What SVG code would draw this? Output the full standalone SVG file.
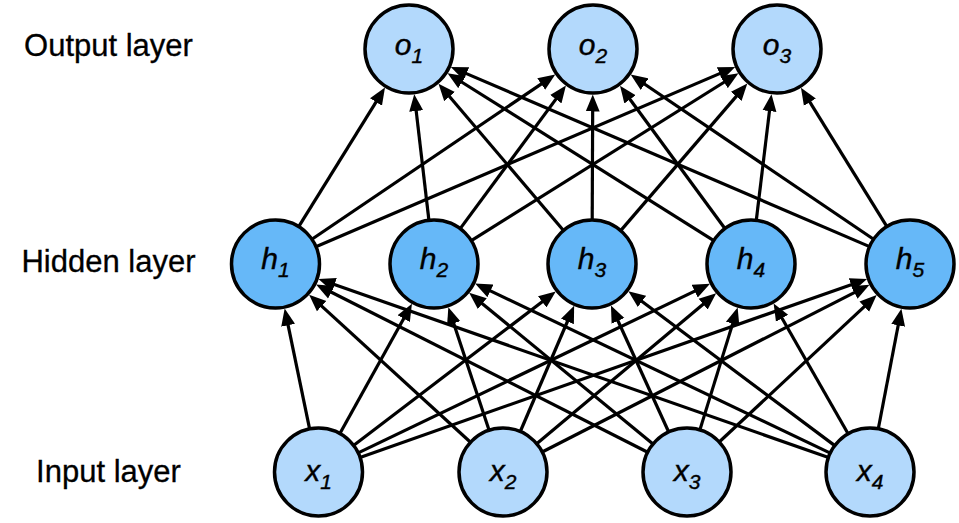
<svg xmlns="http://www.w3.org/2000/svg" width="959" height="523" viewBox="0 0 959 523">
<style>
.layer{font-family:"Liberation Sans",Arial,sans-serif;font-size:31px;fill:#000;text-anchor:middle;stroke:#000;stroke-width:0.3}
.lbl{font-family:"Liberation Sans",Arial,sans-serif;font-style:italic;font-size:30px;fill:#000;text-anchor:middle;stroke:#000;stroke-width:0.4}
.sub{font-size:21px}
.light{fill:#b3d9fc;stroke:#000;stroke-width:3.5}
.dark{fill:#66b8f8;stroke:#000;stroke-width:3.5}
#edges line{stroke:#000;stroke-width:3.2;marker-end:url(#arrow)}
</style>
<defs>
<marker id="arrow" markerUnits="userSpaceOnUse" markerWidth="17" markerHeight="15" viewBox="0 -7.5 17 15" refX="7" refY="0" orient="auto">
<path d="M0,-7 L17,0 L0,7 z" fill="#000"/>
</marker>
</defs>
<rect width="959" height="523" fill="#fff"/>
<text class="layer" x="108.5" y="56">Output layer</text>
<text class="layer" x="108.5" y="272">Hidden layer</text>
<text class="layer" x="108.5" y="482">Input layer</text>
<g id="edges">
<line x1="309.6" y1="428.9" x2="286.7" y2="318.4"/>
<line x1="339.9" y1="433.5" x2="407.1" y2="312.5"/>
<line x1="353.5" y1="445.4" x2="547.8" y2="297.6"/>
<line x1="358.2" y1="452.9" x2="701.0" y2="288.1"/>
<line x1="360.0" y1="457.4" x2="857.6" y2="282.4"/>
<line x1="470.5" y1="442.3" x2="316.5" y2="301.4"/>
<line x1="489.1" y1="430.2" x2="451.5" y2="316.7"/>
<line x1="520.3" y1="431.5" x2="570.2" y2="315.0"/>
<line x1="536.7" y1="443.7" x2="708.5" y2="299.7"/>
<line x1="542.2" y1="452.0" x2="860.6" y2="289.3"/>
<line x1="647.7" y1="452.2" x2="325.0" y2="289.0"/>
<line x1="653.0" y1="444.1" x2="476.9" y2="299.2"/>
<line x1="668.7" y1="432.0" x2="615.1" y2="314.5"/>
<line x1="699.9" y1="429.9" x2="734.7" y2="317.1"/>
<line x1="719.2" y1="442.0" x2="869.4" y2="301.9"/>
<line x1="828.5" y1="457.5" x2="327.9" y2="282.3"/>
<line x1="830.3" y1="453.1" x2="484.1" y2="287.9"/>
<line x1="834.8" y1="445.6" x2="636.4" y2="297.2"/>
<line x1="848.1" y1="433.8" x2="778.6" y2="312.2"/>
<line x1="878.3" y1="428.8" x2="899.5" y2="318.5"/>
<line x1="298.7" y1="226.6" x2="379.7" y2="96.1"/>
<line x1="311.9" y1="239.3" x2="547.0" y2="80.1"/>
<line x1="315.9" y1="246.7" x2="726.0" y2="70.9"/>
<line x1="428.9" y1="220.3" x2="415.4" y2="104.1"/>
<line x1="460.2" y1="228.6" x2="560.0" y2="93.6"/>
<line x1="471.3" y1="240.6" x2="730.0" y2="78.5"/>
<line x1="563.5" y1="230.5" x2="445.0" y2="91.3"/>
<line x1="592.2" y1="220.0" x2="592.7" y2="104.5"/>
<line x1="620.7" y1="230.6" x2="740.8" y2="91.1"/>
<line x1="713.8" y1="240.6" x2="456.0" y2="78.5"/>
<line x1="724.9" y1="228.5" x2="625.9" y2="93.7"/>
<line x1="756.3" y1="220.3" x2="770.3" y2="104.1"/>
<line x1="869.6" y1="246.6" x2="460.0" y2="70.9"/>
<line x1="873.6" y1="239.3" x2="638.9" y2="80.2"/>
<line x1="886.9" y1="226.6" x2="806.2" y2="96.2"/>
</g>
<g id="o1"><circle class="light" cx="409" cy="49" r="44"/><text class="lbl" x="409" y="55">o<tspan class="sub" dy="8">1</tspan></text></g>
<g id="o2"><circle class="light" cx="593" cy="49" r="44"/><text class="lbl" x="593" y="55">o<tspan class="sub" dy="8">2</tspan></text></g>
<g id="o3"><circle class="light" cx="777" cy="49" r="44"/><text class="lbl" x="777" y="55">o<tspan class="sub" dy="8">3</tspan></text></g>
<g id="h1"><circle class="dark" cx="275.5" cy="264" r="44"/><text class="lbl" x="275.5" y="269">h<tspan class="sub" dy="8">1</tspan></text></g>
<g id="h2"><circle class="dark" cx="434" cy="264" r="44"/><text class="lbl" x="434" y="269">h<tspan class="sub" dy="8">2</tspan></text></g>
<g id="h3"><circle class="dark" cx="592" cy="264" r="44"/><text class="lbl" x="592" y="269">h<tspan class="sub" dy="8">3</tspan></text></g>
<g id="h4"><circle class="dark" cx="751" cy="264" r="44"/><text class="lbl" x="751" y="269">h<tspan class="sub" dy="8">4</tspan></text></g>
<g id="h5"><circle class="dark" cx="910" cy="264" r="44"/><text class="lbl" x="910" y="269">h<tspan class="sub" dy="8">5</tspan></text></g>
<g id="x1"><circle class="light" cx="318.5" cy="472" r="44"/><text class="lbl" x="318.5" y="481">x<tspan class="sub" dy="8">1</tspan></text></g>
<g id="x2"><circle class="light" cx="503" cy="472" r="44"/><text class="lbl" x="503" y="481">x<tspan class="sub" dy="8">2</tspan></text></g>
<g id="x3"><circle class="light" cx="687" cy="472" r="44"/><text class="lbl" x="687" y="481">x<tspan class="sub" dy="8">3</tspan></text></g>
<g id="x4"><circle class="light" cx="870" cy="472" r="44"/><text class="lbl" x="870" y="481">x<tspan class="sub" dy="8">4</tspan></text></g>
</svg>
